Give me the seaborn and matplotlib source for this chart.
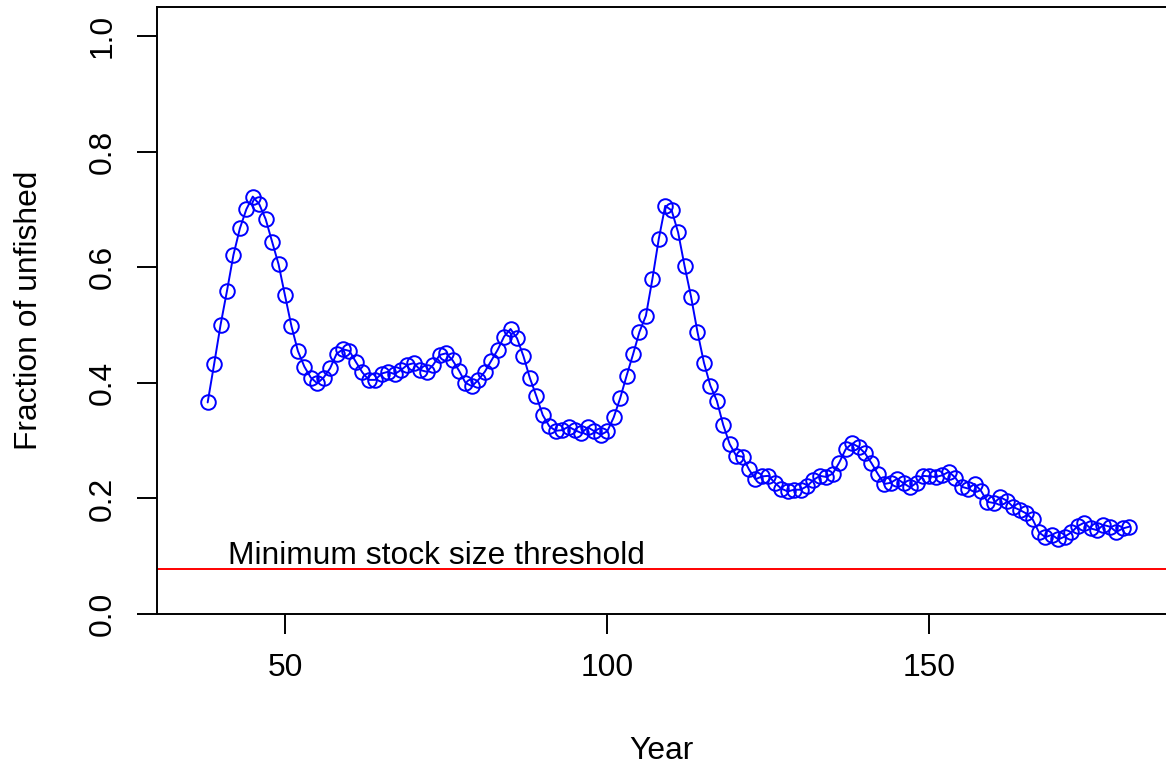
import numpy as np
import pandas as pd
import matplotlib
matplotlib.use("Agg")
import matplotlib.pyplot as plt
import seaborn as sns

# Years and fraction of unfished stock
years = list(range(38, 182))
fraction = [
    0.366, 0.432, 0.500, 0.559, 0.621, 0.667, 0.700, 0.722, 0.709, 0.683,  # 38-47
    0.644, 0.605, 0.551, 0.498, 0.455, 0.428, 0.409, 0.399, 0.409, 0.425,  # 48-57
    0.450, 0.458, 0.455, 0.436, 0.418, 0.405, 0.405, 0.416, 0.419, 0.415,  # 58-67
    0.422, 0.431, 0.434, 0.422, 0.419, 0.431, 0.448, 0.451, 0.439, 0.421,  # 68-77
    0.400, 0.394, 0.405, 0.419, 0.438, 0.457, 0.480, 0.493, 0.477, 0.446,  # 78-87
    0.408, 0.377, 0.344, 0.325, 0.317, 0.318, 0.324, 0.318, 0.313, 0.323,  # 88-97
    0.316, 0.310, 0.316, 0.340, 0.373, 0.412, 0.449, 0.488, 0.516, 0.579,  # 98-107
    0.649, 0.706, 0.698, 0.660, 0.602, 0.549, 0.488, 0.435, 0.395, 0.369,  # 108-117
    0.327, 0.294, 0.274, 0.272, 0.250, 0.233, 0.238, 0.239, 0.227, 0.217,  # 118-127
    0.212, 0.215, 0.215, 0.221, 0.232, 0.239, 0.237, 0.243, 0.262, 0.285,  # 128-137
    0.295, 0.289, 0.278, 0.261, 0.242, 0.225, 0.227, 0.234, 0.226, 0.219,  # 138-147
    0.227, 0.239, 0.238, 0.237, 0.240, 0.246, 0.236, 0.220, 0.217, 0.225,  # 148-157
    0.213, 0.194, 0.192, 0.202, 0.196, 0.185, 0.180, 0.174, 0.164, 0.141,  # 158-167
    0.133, 0.137, 0.129, 0.134, 0.141, 0.152, 0.158, 0.148, 0.145, 0.154,  # 168-177
    0.151, 0.142, 0.148, 0.151,                                            # 178-181
]
threshold = 0.078
threshold_label = "Minimum stock size threshold"

df = pd.DataFrame({"Year": years, "Fraction": fraction})

sns.set_style("white")
plt.rcParams["font.family"] = ["Liberation Sans", "DejaVu Sans"]
plt.rcParams["text.color"] = "black"
plt.rcParams["axes.labelcolor"] = "black"
plt.rcParams["xtick.color"] = "black"
plt.rcParams["ytick.color"] = "black"

fs = 22.9

fig = plt.figure(figsize=(11.66, 7.65), dpi=100)
ax = fig.add_axes([157 / 1166, 151 / 765, 1 - 157 / 1166, 607 / 765])

sns.lineplot(data=df, x="Year", y="Fraction", ax=ax, color="blue",
             marker="o", markersize=10.5, markerfacecolor="none",
             markeredgecolor="blue", markeredgewidth=1.4, linewidth=1.4)

ax.axhline(threshold, color="red", linewidth=1.4)
ax.text(41.2, threshold + 0.008, threshold_label, fontsize=fs,
        ha="left", va="baseline")

ax.set_xlim(30.14, 186.7)
ax.set_ylim(0, 1.05)
ax.set_xticks([50, 100, 150])
ax.set_yticks([0.0, 0.2, 0.4, 0.6, 0.8, 1.0])
ax.set_yticklabels(["0.0", "0.2", "0.4", "0.6", "0.8", "1.0"],
                   rotation=90, va="center")

ax.tick_params(axis="both", direction="out", length=14.4, width=1.4,
               labelsize=fs, left=True, bottom=True)
ax.tick_params(axis="y", pad=14)
ax.tick_params(axis="x", pad=14)

for side in ["left", "bottom", "top"]:
    ax.spines[side].set_visible(True)
    ax.spines[side].set_color("black")
    ax.spines[side].set_linewidth(1.4)
ax.spines["right"].set_visible(False)

ax.set_xlabel("Year", fontsize=fs, labelpad=38)
ax.set_ylabel("Fraction of unfished", fontsize=fs, labelpad=31)

fig.savefig("out.png", dpi=100)
